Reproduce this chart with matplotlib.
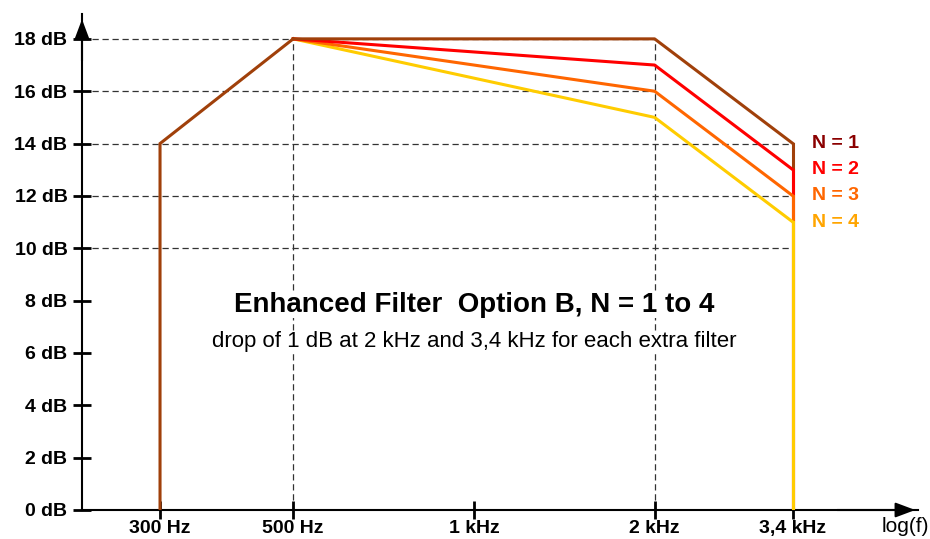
import matplotlib.pyplot as plt
from matplotlib.ticker import NullLocator

plt.rcParams['font.family'] = ['Liberation Sans', 'DejaVu Sans']

# frequency points (Hz) and gains (dB)
f_start = 300
f_knee = 500
f_mid = 2000
f_end = 3400
gain_start = 14
gain_knee = 18

series_names = ['N = 1', 'N = 2', 'N = 3', 'N = 4']
gain_at_2k = [18, 17, 16, 15]
gain_at_3k4 = [14, 13, 12, 11]
line_colors = ['#A0400A', '#FF0000', '#FF6600', '#FFCC00']
label_colors = ['#8B0000', '#FF0000', '#FF6600', '#FFA500']

x_ticks = [300, 500, 1000, 2000, 3400]
x_tick_labels = ['300 Hz', '500 Hz', '1 kHz', '2 kHz', '3,4 kHz']
y_ticks = [0, 2, 4, 6, 8, 10, 12, 14, 16, 18]
y_tick_labels = [f'{v} dB' for v in y_ticks]

grid_levels = [10, 12, 14, 16, 18]
grid_ends = [3400, 3400, 3400, 2000, 2000]
grid_verticals = [500, 2000]

fig = plt.figure(figsize=(9.3, 5.39), dpi=100)
ax = fig.add_axes([82 / 930, 29 / 539, 836 / 930, 496 / 539])
ax.set_xscale('log')
ax.set_xlim(222.4, 5493)
ax.set_ylim(0, 18.95)

# dashed guide lines
ax.hlines(grid_levels, 222.4, grid_ends, colors='#333333', linestyles=(0, (5, 3)), lw=0.9, zorder=1)
ax.vlines(grid_verticals, 0, 18, colors='#333333', linestyles=(0, (5, 3)), lw=0.9, zorder=1)

# common rising part
ax.plot([f_start, f_start, f_knee], [0, gain_start, gain_knee], color=line_colors[0], lw=2.2,
        solid_joinstyle='miter', zorder=5)

# vertical drop at 3.4 kHz, drawn N=1 first so later ones cover it
for i in range(len(series_names)):
    ax.plot([f_end, f_end], [gain_at_3k4[i], 0], color=line_colors[i], lw=2.2, zorder=3 + i * 0.1)

# sloping parts, N=1 on top
for i in reversed(range(len(series_names))):
    ax.plot([f_knee, f_mid, f_end], [gain_knee, gain_at_2k[i], gain_at_3k4[i]],
            color=line_colors[i], lw=2.2, zorder=4 + (4 - i) * 0.1)
    ax.annotate(series_names[i], xy=(f_end, gain_at_3k4[i]), xytext=(14, 0),
                textcoords='offset points', va='center', ha='left', fontsize=14,
                fontweight='bold', color=label_colors[i])

# axes look
for side in ['top', 'right']:
    ax.spines[side].set_visible(False)
for side in ['left', 'bottom']:
    ax.spines[side].set_linewidth(1.5)
arrow = dict(arrowstyle='-|>,head_length=0.8,head_width=0.3', color='k', lw=1.5, mutation_scale=15)
ax.annotate('', xy=(1, 0), xytext=(0.9, 0), xycoords='axes fraction', arrowprops=arrow)
ax.annotate('', xy=(0, 0.995), xytext=(0, 0.9), xycoords='axes fraction', arrowprops=arrow)

ax.xaxis.set_minor_locator(NullLocator())
ax.set_xticks(x_ticks, x_tick_labels)
ax.set_yticks(y_ticks, y_tick_labels)
ax.tick_params(direction='inout', length=13, width=2, labelsize=14)
ax.tick_params(axis='x', pad=1)
ax.tick_params(axis='y', pad=4)
for lab in ax.get_xticklabels() + ax.get_yticklabels():
    lab.set_fontweight('bold')

fig.text(0.999, 1 - 527 / 539, 'log(f)', ha='right', va='center', fontsize=15)

box = dict(facecolor='white', edgecolor='none', pad=0)
ax.text(1000, 7.85, 'Enhanced Filter  Option B, N = 1 to 4', ha='center', va='center',
        fontsize=20, fontweight='bold', bbox=box, zorder=6)
ax.text(1000, 6.45, 'drop of 1 dB at 2 kHz and 3,4 kHz for each extra filter', ha='center',
        va='center', fontsize=16, bbox=box, zorder=6)

fig.savefig('out.png', dpi=100)
